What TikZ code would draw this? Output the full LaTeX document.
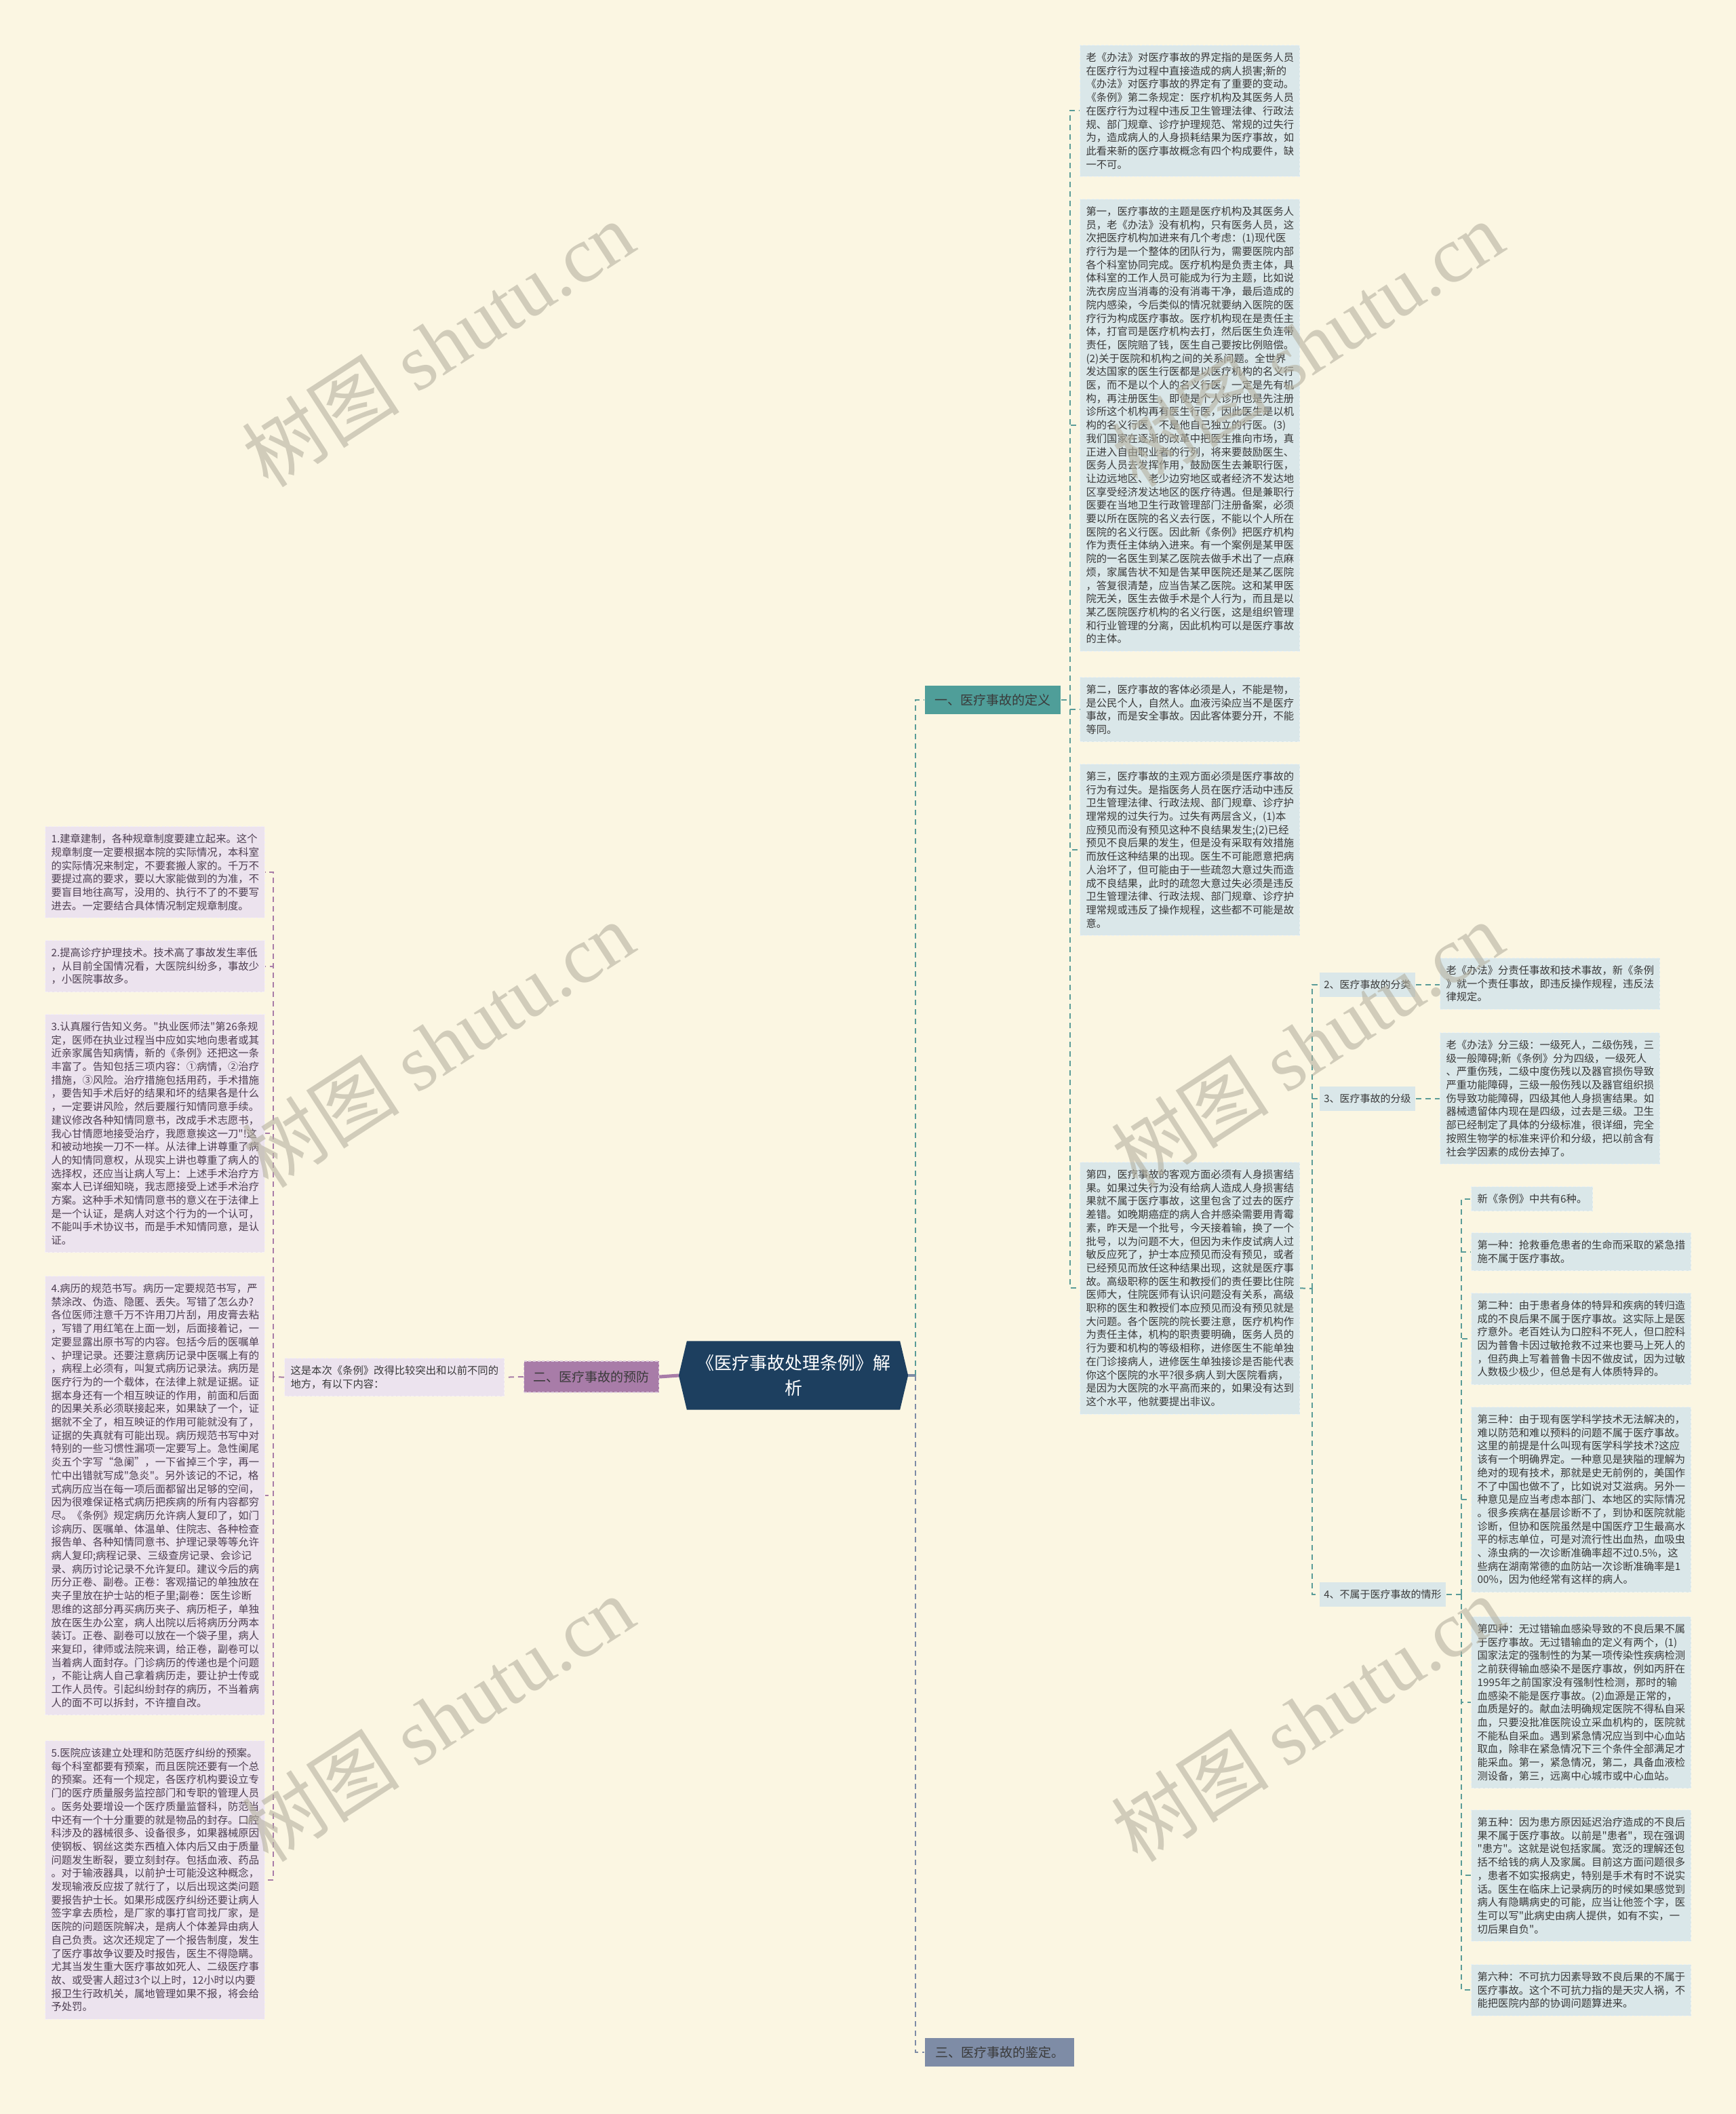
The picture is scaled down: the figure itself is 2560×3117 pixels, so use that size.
\documentclass[tikz,border=0pt]{standalone}
\usepackage{fontspec}
\setmainfont{Noto Sans CJK SC}[Ligatures=TeXOff]
\newfontfamily\wmlatin{Liberation Serif}
\usetikzlibrary{backgrounds}
\definecolor{canvas}{HTML}{FBF6E2}
\definecolor{mainblue}{HTML}{1D3F5F}
\definecolor{defteal}{HTML}{4F9E99}
\definecolor{linkteal}{HTML}{5A9C98}
\definecolor{slate}{HTML}{7E8CA6}
\definecolor{prevpurple}{HTML}{A87CA8}
\definecolor{leafblue}{HTML}{DAE7E9}
\definecolor{leafpurple}{HTML}{ECE3EE}
\definecolor{leaftext}{HTML}{3A3A3A}
\definecolor{purpletext}{HTML}{4E3F52}
\definecolor{wmgray}{HTML}{B5B1A0}
\tikzset{
  leaf/.style={anchor=north west, align=left, text width=91.8pt, inner xsep=2.7pt, inner ysep=3.3pt,
    font=\fontsize{4.6pt}{5.91pt}\selectfont, line width=0.3pt, dash pattern=on 1.2pt off 0.8pt},
  blueleaf/.style={leaf, fill=leafblue, draw=leafblue!50!white, text=leaftext},
  purpleleaf/.style={leaf, fill=leafpurple, draw=leafpurple!50!white, text=purpletext},
  sublabel/.style={anchor=west, fill=leafblue, text=leaftext, inner xsep=2pt, minimum height=8.4pt,
    font=\fontsize{4.5pt}{5.5pt}\selectfont},
  branch/.style={minimum height=12.4pt, inner xsep=3pt, text=leaftext, font=\fontsize{5.7pt}{6.8pt}\selectfont},
  mainbox/.style={minimum width=93.9pt, minimum height=30pt, align=center, text=white,
    font=\fontsize{7.8pt}{11.1pt}\selectfont},
  tealdash/.style={draw=linkteal, line width=0.6pt, dash pattern=on 2.4pt off 1.8pt},
  slatedash/.style={draw=slate, line width=0.6pt, dash pattern=on 2.4pt off 1.8pt},
  purpledash/.style={draw=prevpurple, line width=0.6pt, dash pattern=on 2.4pt off 1.8pt},
  wm/.style={text=wmgray, opacity=0.6, rotate=33, font=\fontsize{35pt}{35pt}\selectfont}
}
\begin{document}
\begin{tikzpicture}[x=0.3pt, y=-0.3pt]
\useasboundingbox (0,0) rectangle (2560,3117);

\node[mainbox] (main) at (1170,2028) {《医疗事故处理条例》解\\析};

\node[branch, fill=defteal, minimum width=60pt] (b1) at (1464,1032) {一、医疗事故的定义};
\node[branch, fill=prevpurple, minimum width=59.7pt, minimum height=13.8pt, draw=white!60!prevpurple, dash pattern=on 1.2pt off 0.8pt, line width=0.4pt] (b2) at (872,2030) {二、医疗事故的预防};
\node[branch, fill=slate, minimum width=66pt] (b3) at (1474,3026) {三、医疗事故的鉴定。};

\node[blueleaf] (d0) at (1592,66) {老《办法》对医疗事故的界定指的是医务人员\\在医疗行为过程中直接造成的病人损害;新的\\《办法》对医疗事故的界定有了重要的变动。\\《条例》第二条规定：医疗机构及其医务人员\\在医疗行为过程中违反卫生管理法律、行政法\\规、部门规章、诊疗护理规范、常规的过失行\\为，造成病人的人身损耗结果为医疗事故，如\\此看来新的医疗事故概念有四个构成要件，缺\\一不可。};
\node[blueleaf] (d1) at (1592,293) {第一，医疗事故的主题是医疗机构及其医务人\\员，老《办法》没有机构，只有医务人员，这\\次把医疗机构加进来有几个考虑：(1)现代医\\疗行为是一个整体的团队行为，需要医院内部\\各个科室协同完成。医疗机构是负责主体，具\\体科室的工作人员可能成为行为主题，比如说\\洗衣房应当消毒的没有消毒干净，最后造成的\\院内感染，今后类似的情况就要纳入医院的医\\疗行为构成医疗事故。医疗机构现在是责任主\\体，打官司是医疗机构去打，然后医生负连带\\责任，医院赔了钱，医生自己要按比例赔偿。\\(2)关于医院和机构之间的关系问题。全世界\\发达国家的医生行医都是以医疗机构的名义行\\医，而不是以个人的名义行医，一定是先有机\\构，再注册医生，即使是个人诊所也是先注册\\诊所这个机构再有医生行医，因此医生是以机\\构的名义行医，不是他自己独立的行医。(3)\\我们国家在逐渐的改革中把医生推向市场，真\\正进入自由职业者的行列，将来要鼓励医生、\\医务人员去发挥作用，鼓励医生去兼职行医，\\让边远地区、老少边穷地区或者经济不发达地\\区享受经济发达地区的医疗待遇。但是兼职行\\医要在当地卫生行政管理部门注册备案，必须\\要以所在医院的名义去行医，不能以个人所在\\医院的名义行医。因此新《条例》把医疗机构\\作为责任主体纳入进来。有一个案例是某甲医\\院的一名医生到某乙医院去做手术出了一点麻\\烦，家属告状不知是告某甲医院还是某乙医院\\，答复很清楚，应当告某乙医院。这和某甲医\\院无关，医生去做手术是个人行为，而且是以\\某乙医院医疗机构的名义行医，这是组织管理\\和行业管理的分离，因此机构可以是医疗事故\\的主体。};
\node[blueleaf] (d2) at (1592,998) {第二，医疗事故的客体必须是人，不能是物，\\是公民个人，自然人。血液污染应当不是医疗\\事故，而是安全事故。因此客体要分开，不能\\等同。};
\node[blueleaf] (d3) at (1592,1126) {第三，医疗事故的主观方面必须是医疗事故的\\行为有过失。是指医务人员在医疗活动中违反\\卫生管理法律、行政法规、部门规章、诊疗护\\理常规的过失行为。过失有两层含义，(1)本\\应预见而没有预见这种不良结果发生;(2)已经\\预见不良后果的发生，但是没有采取有效措施\\而放任这种结果的出现。医生不可能愿意把病\\人治坏了，但可能由于一些疏忽大意过失而造\\成不良结果，此时的疏忽大意过失必须是违反\\卫生管理法律、行政法规、部门规章、诊疗护\\理常规或违反了操作规程，这些都不可能是故\\意。};
\node[blueleaf] (d4) at (1592,1713) {第四，医疗事故的客观方面必须有人身损害结\\果。如果过失行为没有给病人造成人身损害结\\果就不属于医疗事故，这里包含了过去的医疗\\差错。如晚期癌症的病人合并感染需要用青霉\\素，昨天是一个批号，今天接着输，换了一个\\批号，以为问题不大，但因为未作皮试病人过\\敏反应死了，护士本应预见而没有预见，或者\\已经预见而放任这种结果出现，这就是医疗事\\故。高级职称的医生和教授们的责任要比住院\\医师大，住院医师有认识问题没有关系，高级\\职称的医生和教授们本应预见而没有预见就是\\大问题。各个医院的院长要注意，医疗机构作\\为责任主体，机构的职责要明确，医务人员的\\行为要和机构的等级相称，进修医生不能单独\\在门诊接病人，进修医生单独接诊是否能代表\\你这个医院的水平?很多病人到大医院看病，\\是因为大医院的水平高而来的，如果没有达到\\这个水平，他就要提出非议。};

\node[sublabel] (c2) at (1945,1452) {2、医疗事故的分类};
\node[sublabel] (c3) at (1945,1620) {3、医疗事故的分级};
\node[sublabel] (c4) at (1945,2351) {4、不属于医疗事故的情形};

\node[blueleaf] (l2) at (2123,1412) {老《办法》分责任事故和技术事故，新《条例\\》就一个责任事故，即违反操作规程，违反法\\律规定。};
\node[blueleaf] (l3) at (2123,1522) {老《办法》分三级：一级死人，二级伤残，三\\级一般障碍;新《条例》分为四级，一级死人\\、严重伤残，二级中度伤残以及器官损伤导致\\严重功能障碍，三级一般伤残以及器官组织损\\伤导致功能障碍，四级其他人身损害结果。如\\器械遗留体内现在是四级，过去是三级。卫生\\部已经制定了具体的分级标准，很详细，完全\\按照生物学的标准来评价和分级，把以前含有\\社会学因素的成份去掉了。};

\node[blueleaf, text width=48.3pt] (n0) at (2169,1749) {新《条例》中共有6种。};
\node[blueleaf] (n1) at (2169,1817) {第一种：抢救垂危患者的生命而采取的紧急措\\施不属于医疗事故。};
\node[blueleaf] (n2) at (2169,1906) {第二种：由于患者身体的特异和疾病的转归造\\成的不良后果不属于医疗事故。这实际上是医\\疗意外。老百姓认为口腔科不死人，但口腔科\\因为普鲁卡因过敏抢救不过来也要马上死人的\\，但药典上写着普鲁卡因不做皮试，因为过敏\\人数极少极少，但总是有人体质特异的。};
\node[blueleaf] (n3) at (2169,2074) {第三种：由于现有医学科学技术无法解决的，\\难以防范和难以预料的问题不属于医疗事故。\\这里的前提是什么叫现有医学科学技术?这应\\该有一个明确界定。一种意见是狭隘的理解为\\绝对的现有技术，那就是史无前例的，美国作\\不了中国也做不了，比如说对艾滋病。另外一\\种意见是应当考虑本部门、本地区的实际情况\\。很多疾病在基层诊断不了，到协和医院就能\\诊断，但协和医院虽然是中国医疗卫生最高水\\平的标志单位，可是对流行性出血热，血吸虫\\、涤虫病的一次诊断准确率超不过0.5\%，这\\些病在湖南常德的血防站一次诊断准确率是1\\00\%，因为他经常有这样的病人。};
\node[blueleaf] (n4) at (2169,2383) {第四种：无过错输血感染导致的不良后果不属\\于医疗事故。无过错输血的定义有两个，(1)\\国家法定的强制性的为某一项传染性疾病检测\\之前获得输血感染不是医疗事故，例如丙肝在\\1995年之前国家没有强制性检测，那时的输\\血感染不能是医疗事故。(2)血源是正常的，\\血质是好的。献血法明确规定医院不得私自采\\血，只要没批准医院设立采血机构的，医院就\\不能私自采血。遇到紧急情况应当到中心血站\\取血，除非在紧急情况下三个条件全部满足才\\能采血。第一，紧急情况，第二，具备血液检\\测设备，第三，远离中心城市或中心血站。};
\node[blueleaf] (n5) at (2169,2668) {第五种：因为患方原因延迟治疗造成的不良后\\果不属于医疗事故。以前是"患者"，现在强调\\"患方"。这就是说包括家属。宽泛的理解还包\\括不给钱的病人及家属。目前这方面问题很多\\，患者不如实报病史，特别是手术有时不说实\\话。医生在临床上记录病历的时候如果感觉到\\病人有隐瞒病史的可能，应当让他签个字，医\\生可以写"此病史由病人提供，如有不实，一\\切后果自负"。};
\node[blueleaf] (n6) at (2169,2896) {第六种：不可抗力因素导致不良后果的不属于\\医疗事故。这个不可抗力指的是天灾人祸，不\\能把医院内部的协调问题算进来。};

\node[purpleleaf, text=leaftext] (pre) at (419,2002) {这是本次《条例》改得比较突出和以前不同的\\地方，有以下内容：};

\node[purpleleaf] (p1) at (66,1218) {1.建章建制，各种规章制度要建立起来。这个\\规章制度一定要根据本院的实际情况，本科室\\的实际情况来制定，不要套搬人家的。千万不\\要提过高的要求，要以大家能做到的为准，不\\要盲目地往高写，没用的、执行不了的不要写\\进去。一定要结合具体情况制定规章制度。};
\node[purpleleaf] (p2) at (66,1386) {2.提高诊疗护理技术。技术高了事故发生率低\\，从目前全国情况看，大医院纠纷多，事故少\\，小医院事故多。};
\node[purpleleaf] (p3) at (66,1495) {3.认真履行告知义务。"执业医师法"第26条规\\定，医师在执业过程当中应如实地向患者或其\\近亲家属告知病情，新的《条例》还把这一条\\丰富了。告知包括三项内容：①病情，②治疗\\措施，③风险。治疗措施包括用药，手术措施\\，要告知手术后好的结果和坏的结果各是什么\\，一定要讲风险，然后要履行知情同意手续。\\建议修改各种知情同意书，改成手术志愿书，\\我心甘情愿地接受治疗，我愿意挨这一刀"!这\\和被动地挨一刀不一样。从法律上讲尊重了病\\人的知情同意权，从现实上讲也尊重了病人的\\选择权，还应当让病人写上：上述手术治疗方\\案本人已详细知晓，我志愿接受上述手术治疗\\方案。这种手术知情同意书的意义在于法律上\\是一个认证，是病人对这个行为的一个认可，\\不能叫手术协议书，而是手术知情同意，是认\\证。};
\node[purpleleaf] (p4) at (66,1881) {4.病历的规范书写。病历一定要规范书写，严\\禁涂改、伪造、隐匿、丢失。写错了怎么办?\\各位医师注意千万不许用刀片刮，用皮膏去粘\\，写错了用红笔在上面一划，后面接着记，一\\定要显露出原书写的内容。包括今后的医嘱单\\、护理记录。还要注意病历记录中医嘱上有的\\，病程上必须有，叫复式病历记录法。病历是\\医疗行为的一个载体，在法律上就是证据。证\\据本身还有一个相互映证的作用，前面和后面\\的因果关系必须联接起来，如果缺了一个，证\\据就不全了，相互映证的作用可能就没有了，\\证据的失真就有可能出现。病历规范书写中对\\特别的一些习惯性漏项一定要写上。急性阑尾\\炎五个字写“急阑”，一下省掉三个字，再一\\忙中出错就写成"急炎"。另外该记的不记，格\\式病历应当在每一项后面都留出足够的空间，\\因为很难保证格式病历把疾病的所有内容都穷\\尽。《条例》规定病历允许病人复印了，如门\\诊病历、医嘱单、体温单、住院志、各种检查\\报告单、各种知情同意书、护理记录等等允许\\病人复印;病程记录、三级查房记录、会诊记\\录、病历讨论记录不允许复印。建议今后的病\\历分正卷、副卷。正卷：客观描记的单独放在\\夹子里放在护士站的柜子里;副卷：医生诊断\\思维的这部分再买病历夹子、病历柜子，单独\\放在医生办公室，病人出院以后将病历分两本\\装订。正卷、副卷可以放在一个袋子里，病人\\来复印，律师或法院来调，给正卷，副卷可以\\当着病人面封存。门诊病历的传递也是个问题\\，不能让病人自己拿着病历走，要让护士传或\\工作人员传。引起纠纷封存的病历，不当着病\\人的面不可以拆封，不许擅自改。};
\node[purpleleaf] (p5) at (66,2566) {5.医院应该建立处理和防范医疗纠纷的预案。\\每个科室都要有预案，而且医院还要有一个总\\的预案。还有一个规定，各医疗机构要设立专\\门的医疗质量服务监控部门和专职的管理人员\\。医务处要增设一个医疗质量监督科，防范当\\中还有一个十分重要的就是物品的封存。口腔\\科涉及的器械很多、设备很多，如果器械原因\\使钢板、钢丝这类东西植入体内后又由于质量\\问题发生断裂，要立刻封存。包括血液、药品\\。对于输液器具，以前护士可能没这种概念，\\发现输液反应拔了就行了，以后出现这类问题\\要报告护士长。如果形成医疗纠纷还要让病人\\签字拿去质检，是厂家的事打官司找厂家，是\\医院的问题医院解决，是病人个体差异由病人\\自己负责。这次还规定了一个报告制度，发生\\了医疗事故争议要及时报告，医生不得隐瞒。\\尤其当发生重大医疗事故如死人、二级医疗事\\故、或受害人超过3个以上时，12小时以内要\\报卫生行政机关，属地管理如果不报，将会给\\予处罚。};

\coordinate (tr) at (1350,2028);
\coordinate (t1) at (1578,1032);
\coordinate (t4) at (1935,1900);
\coordinate (t5) at (2155,2351);
\coordinate (tl) at (403,2030);

\draw[line width=1.5pt, prevpurple] ([xshift=-3.6pt]main.west) -- (b2.east);
\draw[line width=1.2pt, slate] ([xshift=3.6pt]main.east) -- (tr);
\draw[tealdash] (tr) |- (b1.west);
\draw[slatedash] (tr) |- (b3.west);
\draw[tealdash] (b1.east) -- (t1);
\foreach \n in {d0,d1,d2,d3,d4} {
    \draw[tealdash] (t1) |- (\n.west);
}
\draw[tealdash] (d4.east) -- (t4);
\foreach \n in {c2,c3,c4} {
    \draw[tealdash] (t4) |- (\n.west);
}
\draw[tealdash] (c2.east) -- (c2.east -| l2.west);
\draw[tealdash] (c3.east) -- (c3.east -| l3.west);
\draw[tealdash] (c4.east) -- (t5);
\foreach \n in {n0,n1,n2,n3,n4,n5,n6} {
    \draw[tealdash] (t5) |- (\n.west);
}
\draw[purpledash] (b2.west) -- (pre.east);
\draw[purpledash] (pre.west) -- (tl);
\foreach \n in {p1,p2,p3,p4,p5} {
    \draw[purpledash] (tl) |- (\n.east);
}

\begin{scope}[on background layer]
    \fill[canvas] (0,0) rectangle (2560,3117);
    \fill[mainblue] ([xshift=-3.6pt]main.west) -- (main.north west) -- (main.north east)
        -- ([xshift=3.6pt]main.east) -- (main.south east) -- (main.south west) -- cycle;
\end{scope}

\foreach \wx/\wy in {646/507,1928/507,646/1540,1928/1540,646/2534,1928/2534} {
    \node[wm] at (\wx,\wy) {树图 {\wmlatin shutu.cn}};
}
\end{tikzpicture}
\end{document}
